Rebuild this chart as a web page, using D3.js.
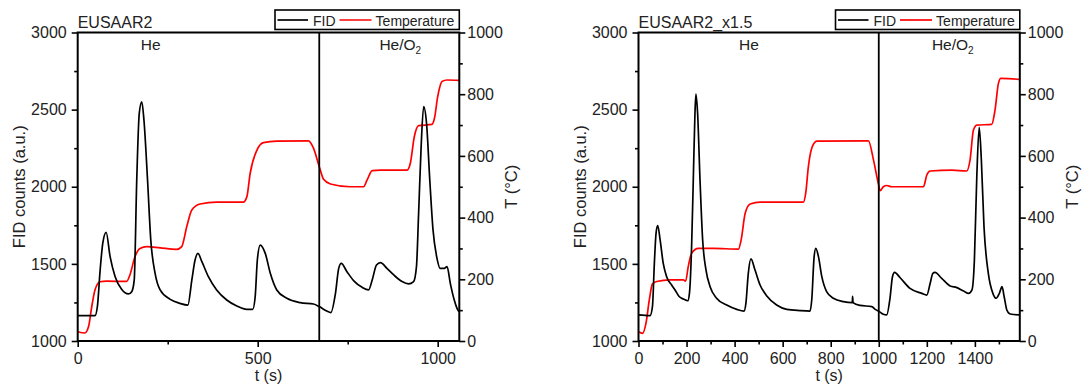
<!DOCTYPE html>
<html>
<head>
<meta charset="utf-8">
<script src="https://cdn.jsdelivr.net/npm/d3@7"></script>
<style>
  html, body { margin: 0; padding: 0; background: #fff; }
  svg { display: block; font-family: "Liberation Sans", Arial, sans-serif; }
</style>
</head>
<body>
<svg id="chart" width="1082" height="387"></svg>
<script>
// ---------------- DATA ----------------
const panelTitles = ["EUSAAR2", "EUSAAR2_x1.5"];
const seriesNames = ["FID", "Temperature"];
const fidTicks = [1000, 1500, 2000, 2500, 3000];
const tempTicks = [0, 200, 400, 600, 800, 1000];
const leftTimeTicks = [0, 500, 1000];
const rightTimeTicks = [0, 200, 400, 600, 800, 1000, 1200, 1400];
const leftSwitchTime = 671;   // He -> He/O2
const rightSwitchTime = 1000;

// [t (s), FID counts]
const leftFID = [
  [0,1165],[48,1165],[55,1230],[62,1450],[70,1640],[79,1704],[90,1547],[104,1417],[122,1335],
  [141,1305],[150,1320],[157,1395],[164,2044],[171,2476],[178,2551],[184,2433],[194,2044],
  [203,1655],[215,1439],[229,1331],[257,1270],[284,1244],[306,1233],[317,1395],[326,1525],
  [334,1568],[345,1514],[363,1417],[386,1331],[414,1266],[442,1227],[470,1205],[486,1205],
  [493,1287],[499,1525],[507,1622],[521,1568],[535,1439],[553,1331],[581,1277],[618,1249],
  [655,1240],[671,1223],[692,1194],[703,1184],[716,1309],[725,1471],[732,1503],[748,1449],
  [767,1390],[790,1348],[808,1331],[818,1395],[830,1493],[841,1508],[859,1471],[878,1428],
  [901,1385],[919,1370],[933,1385],[941,1482],[947,1828],[954,2260],[961,2520],[969,2411],
  [978,2044],[987,1720],[998,1536],[1007,1471],[1018,1471],[1026,1482],[1035,1374],
  [1046,1266],[1056,1201],[1060,1190]
];
// [t (s), T (°C)]
const leftTemp = [
  [0,30],[20,26],[30,46],[39,111],[48,165],[62,192],[80,194],[136,193],[145,214],[159,273],
  [173,300],[192,306],[229,302],[275,297],[289,306],[303,371],[317,425],[340,444],[386,450],
  [460,450],[470,468],[479,543],[498,619],[516,643],[553,648],[641,649],[655,625],[671,565],
  [683,524],[702,509],[757,500],[794,500],[804,522],[818,552],[841,554],[915,554],[924,576],
  [935,662],[947,698],[984,702],[991,722],[1000,792],[1012,841],[1026,846],[1060,845]
];
const rightFID = [
  [0,1169],[48,1164],[58,1223],[66,1503],[73,1698],[80,1748],[90,1655],[103,1503],[117,1417],
  [138,1363],[152,1331],[170,1287],[187,1272],[205,1261],[212,1309],[221,1612],[228,2044],
  [235,2476],[239,2601],[246,2476],[256,2044],[267,1655],[281,1460],[298,1352],[325,1277],
  [367,1233],[409,1205],[439,1194],[447,1244],[457,1439],[468,1532],[485,1460],[506,1363],
  [534,1292],[575,1233],[617,1205],[672,1197],[714,1194],[721,1266],[731,1547],[738,1601],
  [749,1547],[763,1417],[783,1320],[811,1277],[853,1255],[890,1249],[891,1290],[893,1249],
  [922,1231],[971,1223],[985,1205],[1001,1192],[1019,1173],[1033,1169],[1047,1280],
  [1057,1417],[1066,1445],[1089,1410],[1130,1341],[1179,1309],[1200,1298],[1214,1374],
  [1225,1439],[1234,1445],[1262,1406],[1297,1357],[1325,1346],[1353,1324],[1374,1309],
  [1388,1331],[1398,1525],[1408,2065],[1418,2385],[1427,2173],[1438,1741],[1456,1439],
  [1475,1309],[1488,1277],[1502,1309],[1513,1352],[1522,1287],[1533,1201],[1547,1175],
  [1587,1169]
];
const rightTemp = [
  [0,30],[17,25],[31,57],[45,133],[58,185],[76,193],[131,198],[187,198],[196,194],[207,241],
  [221,284],[249,300],[312,300],[416,298],[427,327],[444,414],[465,444],[506,450],[686,450],
  [696,479],[707,565],[721,625],[742,648],[957,649],[978,587],[998,511],[1006,487],[1019,500],
  [1033,504],[1054,500],[1186,500],[1200,538],[1214,551],[1304,554],[1366,551],[1380,587],
  [1394,684],[1408,700],[1470,702],[1484,749],[1498,835],[1508,851],[1587,848]
];

// ---------------- LAYOUT ----------------
const svg = d3.select("#chart");
const yTop = 32.5, yBottom = 341;
const panels = [
  { title: panelTitles[0], x0: 77.7, x1: 459.3, tmax: 1060, ticks: leftTimeTicks,
    minor: [250, 750], fid: leftFID, temp: leftTemp, sw: leftSwitchTime, heAt: 203, he2At: 896 },
  { title: panelTitles[1], x0: 638.5, x1: 1019.8, tmax: 1587, ticks: rightTimeTicks,
    minor: [100, 300, 500, 700, 900, 1100, 1300, 1500], fid: rightFID, temp: rightTemp,
    sw: rightSwitchTime, heAt: 460, he2At: 1308 }
];
const fmt = d3.format("d");

function styleAxis(g) {
  g.selectAll(".domain").remove();
  g.selectAll(".tick line").attr("stroke", "#000").attr("stroke-width", 1.6);
  g.selectAll(".tick text").attr("fill", "#222").style("font-size", "16px");
}

panels.forEach((p, i) => {
  const x = d3.scaleLinear().domain([0, p.tmax]).range([p.x0, p.x1]);
  const yF = d3.scaleLinear().domain([1000, 3000]).range([yBottom, yTop]);
  const yT = d3.scaleLinear().domain([0, 1000]).range([yBottom, yTop]);
  const g = svg.append("g");

  const clipId = "clip" + i;
  svg.append("clipPath").attr("id", clipId).append("rect")
    .attr("x", p.x0).attr("y", yTop).attr("width", p.x1 - p.x0).attr("height", yBottom - yTop);

  // data lines
  const lineF = d3.line().x(d => x(d[0])).y(d => yF(d[1])).curve(d3.curveMonotoneX);
  const lineT = d3.line().x(d => x(d[0])).y(d => yT(d[1])).curve(d3.curveMonotoneX);
  const dg = g.append("g").attr("clip-path", `url(#${clipId})`);
  dg.append("path").datum(p.temp).attr("d", lineT).attr("fill", "none")
    .attr("stroke", "#ff0000").attr("stroke-width", 1.7).attr("stroke-linejoin", "round");
  dg.append("path").datum(p.fid).attr("d", lineF).attr("fill", "none")
    .attr("stroke", "#000").attr("stroke-width", 1.7).attr("stroke-linejoin", "round");

  // switch line
  g.append("line").attr("x1", x(p.sw)).attr("x2", x(p.sw)).attr("y1", yTop).attr("y2", yBottom)
    .attr("stroke", "#000").attr("stroke-width", 1.8);

  // axes
  const ax = g.append("g").attr("transform", `translate(0,${yBottom})`)
    .call(d3.axisBottom(x).tickValues(p.ticks).tickFormat(fmt).tickSize(6).tickPadding(6));
  styleAxis(ax);
  const axm = g.append("g").attr("transform", `translate(0,${yBottom})`)
    .call(d3.axisBottom(x).tickValues(p.minor).tickFormat("").tickSize(3.5));
  styleAxis(axm);

  const ay = g.append("g").attr("transform", `translate(${p.x0},0)`)
    .call(d3.axisLeft(yF).tickValues(fidTicks).tickFormat(fmt).tickSize(6).tickPadding(5));
  styleAxis(ay);
  const aym = g.append("g").attr("transform", `translate(${p.x0},0)`)
    .call(d3.axisLeft(yF).tickValues([1250, 1750, 2250, 2750]).tickFormat("").tickSize(3.5));
  styleAxis(aym);

  const ayr = g.append("g").attr("transform", `translate(${p.x1},0)`)
    .call(d3.axisRight(yT).tickValues(tempTicks).tickFormat(fmt).tickSize(6).tickPadding(2));
  styleAxis(ayr);
  const ayrm = g.append("g").attr("transform", `translate(${p.x1},0)`)
    .call(d3.axisRight(yT).tickValues([100, 300, 500, 700, 900]).tickFormat("").tickSize(3.5));
  styleAxis(ayrm);

  // frame
  g.append("rect").attr("x", p.x0).attr("y", yTop).attr("width", p.x1 - p.x0)
    .attr("height", yBottom - yTop).attr("fill", "none").attr("stroke", "#000").attr("stroke-width", 2);

  // axis titles
  g.append("text").attr("x", (p.x0 + p.x1) / 2).attr("y", 381).attr("text-anchor", "middle")
    .style("font-size", "16px").attr("fill", "#222").text("t (s)");
  g.append("text").attr("transform", `translate(${p.x0 - 58},${(yTop + yBottom) / 2}) rotate(-90)`)
    .attr("text-anchor", "middle").attr("dy", "0.35em").style("font-size", "16.5px")
    .attr("fill", "#222").text("FID counts (a.u.)");
  g.append("text").attr("transform", `translate(${p.x1 + 52},${(yTop + yBottom) / 2}) rotate(-90)`)
    .attr("text-anchor", "middle").attr("dy", "0.35em").style("font-size", "16.5px")
    .attr("fill", "#222").text("T (°C)");

  // panel title
  g.append("text").attr("x", p.x0).attr("y", 28).style("font-size", "16px")
    .attr("fill", "#222").text(p.title);

  // atmosphere labels
  g.append("text").attr("x", x(p.heAt)).attr("y", 50).attr("text-anchor", "middle")
    .style("font-size", "15.5px").attr("fill", "#222").text("He");
  const t2 = g.append("text").attr("x", x(p.he2At)).attr("y", 50).attr("text-anchor", "middle")
    .style("font-size", "15.5px").attr("fill", "#222");
  t2.append("tspan").text("He/O");
  t2.append("tspan").attr("dy", 4).style("font-size", "10px").text("2");

  // legend
  const lx = p.x1 - 184.3;
  const lg = g.append("g");
  lg.append("rect").attr("x", lx).attr("y", 10).attr("width", 184.3).attr("height", 19.5)
    .attr("fill", "#fff").attr("stroke", "#000").attr("stroke-width", 1.6);
  lg.append("line").attr("x1", lx + 2.5).attr("x2", lx + 33).attr("y1", 20).attr("y2", 20)
    .attr("stroke", "#000").attr("stroke-width", 1.7);
  lg.append("text").attr("x", lx + 38).attr("y", 25.5).style("font-size", "14px")
    .attr("fill", "#222").text(seriesNames[0]);
  lg.append("line").attr("x1", lx + 64.5).attr("x2", lx + 96.5).attr("y1", 20).attr("y2", 20)
    .attr("stroke", "#ff0000").attr("stroke-width", 1.7);
  lg.append("text").attr("x", lx + 100.6).attr("y", 25.5).style("font-size", "14px")
    .attr("fill", "#222").text(seriesNames[1]);
});
</script>
</body>
</html>
